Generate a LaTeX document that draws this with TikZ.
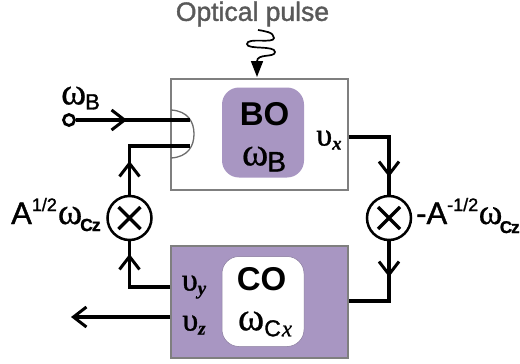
\documentclass[tikz,border=0pt]{standalone}
\usepackage{fontspec}
\setmainfont{Liberation Sans}
\newfontfamily\sem[FakeBold=1.4]{Liberation Sans}
\newfontfamily\grk[FakeBold=0.5]{Liberation Serif}
\newfontfamily\grkb[FakeBold=1]{Liberation Serif}
\usetikzlibrary{arrows.meta}
\definecolor{pur}{HTML}{A896C2}
\definecolor{edgegray}{HTML}{7F7F7F}
\definecolor{txtgray}{HTML}{595959}
\newcommand{\om}{{\grk ω}}
\newcommand{\up}{{\grkb υ}}
\newcommand{\ix}[1]{{\fontsize{19}{19}\selectfont\grk\bfseries\itshape #1}}
\newcommand{\fs}[1]{\fontsize{#1}{#1}\selectfont}
\tikzset{
  x=1pt,y=-1pt,
  wire/.style={line width=3.4pt,line cap=butt,line join=miter},
  barbtip/.style={line width=3.4pt,-{Straight Barb[length=13pt,width=20pt,line width=3pt]}},
  outer/.style={draw=edgegray,line width=1.6pt,minimum width=177pt,minimum height=111pt,inner sep=0pt},
  inner/.style={rounded corners=17pt,minimum width=82pt,minimum height=90pt,inner sep=0pt},
  mult/.style={circle,draw=black,line width=2.5pt,fill=white,minimum size=44pt,inner sep=0pt},
  lbl/.style={inner sep=0pt,text=black},
}
\begin{document}
\begin{tikzpicture}
\useasboundingbox (0,0) rectangle (520,364);
\node[outer,fill=white] (bobox) at (259.5,134.5) {};
\node[outer,fill=pur,minimum height=112pt] (cobox) at (259.5,302) {};
\node[inner,fill=pur] (boin) at (263,132.5) {};
\node[inner,fill=white,draw=pur!80!black,line width=.5pt] (coin) at (263,301.5) {};
% coupler
\draw[edgegray!85!black,line width=1.3pt] (171,110) .. controls (188,111) and (194,122) .. (194,134) .. controls (194,146) and (188,157) .. (171,158);
% labels inside
\node[lbl,font=\fs{33}\bfseries] (bot) at (264.5,114.5) {BO};
\node[lbl] (bow) at (264,159) {\fs{40}\om\kern-1pt\raisebox{-6pt}{\fs{28}\sem B}};
\node[lbl,font=\fs{33}\bfseries] (cot) at (261.5,279.5) {CO};
\node[lbl] (cow) at (265,324) {\fs{40}\om\kern0pt\raisebox{-6pt}{\fs{23}\sem C\kern1pt{\grk\itshape x}}};
\node[lbl] (vx) at (329,140) {\fs{32}\up\raisebox{-4pt}{\ix{x}}};
\node[lbl] (vy) at (194,287) {\fs{32}\up\raisebox{-4pt}{\ix{y}}};
\node[lbl] (vz) at (194,325) {\fs{32}\up\raisebox{-4pt}{\ix{z}}};
% multipliers
\node[mult] (ml) at (129.5,218) {};
\node[mult] (mr) at (389,218) {};
% coordinates
\coordinate (pin) at (190,120);
\coordinate (pout) at (190,146);
\coordinate (xout) at (bobox.east |- 0,137);
\coordinate (coinr) at (cobox.east |- 0,301);
\coordinate (yout) at (cobox.west |- 0,287);
\coordinate (zout) at (cobox.west |- 0,317);
\coordinate (zend) at (71,317);
\coordinate (t1) at (127,120);
\coordinate (t2) at (ml.north |- 0,161);
\coordinate (t3) at (ml.south |- 0,254);
\coordinate (t4) at (mr.north |- 0,177);
\coordinate (t5) at (mr.south |- 0,277);
% X marks
\draw[line width=3.2pt] ([shift={(-11,-11)}]ml.center) -- ([shift={(11,11)}]ml.center) ([shift={(-11,11)}]ml.center) -- ([shift={(11,-11)}]ml.center);
\draw[line width=3.2pt] ([shift={(-11,-11)}]mr.center) -- ([shift={(11,11)}]mr.center) ([shift={(-11,11)}]mr.center) -- ([shift={(11,-11)}]mr.center);
% input
\node[circle,draw=black,line width=2.8pt,fill=white,minimum size=11pt,inner sep=0pt] (src) at (69,120) {};
\node[lbl] (wb) at (80.5,98) {\fs{38}\om\kern-1pt\raisebox{-5pt}{\fs{22}\sem B}};
\draw[wire] (src) -- (pin);
\draw[barbtip] (src) -- (t1);
\draw[wire] (yout) -| (ml.south);
\draw[barbtip] (yout -| ml.south) -- (t3);
\draw[wire] (ml.north) |- (pout);
\draw[barbtip] (ml.north) -- (t2);
\draw[wire] (xout) -| (mr.north);
\draw[barbtip] (xout -| mr.north) -- (t4);
\draw[wire] (mr.south) |- (coinr);
\draw[barbtip] (mr.south) -- (t5);
\draw[barbtip] (zout) -- (zend);
% multiplier labels
\node[lbl,anchor=base west] (al) at (11,224) {\fs{31}\sem A\raisebox{13pt}{\fs{18}\sem 1/2}\kern1pt\fs{37}\om\kern-2pt\raisebox{-7pt}{\fs{17.5}\bfseries C\kern-1pt z}};
\node[lbl,anchor=base west] (ar) at (416,224) {\fs{31}\sem -A\raisebox{13pt}{\fs{18}\sem -1/2}\kern.5pt\fs{36}\om\kern-2.5pt\raisebox{-9pt}{\fs{17}\bfseries C\kern-1pt z}};
% optical pulse
\node[lbl,text=txtgray,font=\fs{26.5}\sem] (op) at (252.5,14) {Optical pulse};
\coordinate (ws) at (258,30);
\draw[line width=1.7pt,-{Triangle[length=16pt,width=12pt]}] (ws) .. controls (264,31) and (274,32) .. (274,38)
  .. controls (274,44) and (247,37) .. (247,44) .. controls (247,50) and (275,45) .. (275,52)
  .. controls (275,58) and (257,53) .. (257,77);
\end{tikzpicture}
\end{document}
